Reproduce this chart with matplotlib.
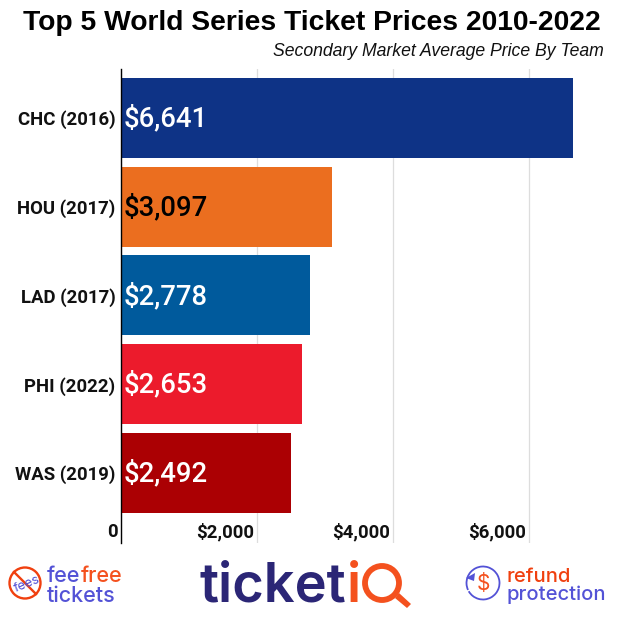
import matplotlib
matplotlib.use("Agg")
import matplotlib.pyplot as plt
from matplotlib.patches import Circle, Arc, Polygon
from matplotlib.transforms import ScaledTranslation

# data
teams = ["CHC (2016)", "HOU (2017)", "LAD (2017)", "PHI (2022)", "WAS (2019)"]
prices = [6641, 3097, 2778, 2653, 2492]
colors = ["#0E3386", "#EB6E1F", "#005A9C", "#EC1B2C", "#AB0003"]
label_colors = ["white", "black", "white", "white", "white"]
xticks = [0, 2000, 4000, 6000]
xtick_labels = ["0", "$2,000", "$4,000", "$6,000"]

W, H = 620, 620
fig = plt.figure(figsize=(W / 100, H / 100), dpi=100)

# axes position in pixels
left = 121.3
ax = fig.add_axes([left / W, 1 - 543 / H, (606 - left) / W, (543 - 69) / H])
ypos = list(range(len(teams)))
ax.barh(ypos, prices, height=0.9, color=colors, zorder=2)
ax.set_ylim(4.79, -0.55)
ax.set_xlim(0, (606 - left) / 0.068)

ax.set_yticks(ypos)
ax.set_yticklabels(teams, fontfamily="Roboto", fontweight="bold", fontsize=13.4, color="#111111")
ax.tick_params(axis="y", length=0, pad=4.2)

# the x labels sit inside the plot, left of each grid line
ax.set_xticks(xticks)
ax.set_xticklabels(xtick_labels, fontfamily="Roboto", fontweight="bold", fontsize=13.4, color="#111111", ha="right")
ax.tick_params(axis="x", length=0, pad=-14.5)
shift = ScaledTranslation(-3.5 / 100, 0, fig.dpi_scale_trans)
for t in ax.get_xticklabels():
    t.set_transform(t.get_transform() + shift)

ax.grid(axis="x", color="#DDDDDD", linewidth=0.9, zorder=1)
ax.set_axisbelow(True)
for s in ["top", "right", "bottom"]:
    ax.spines[s].set_visible(False)
ax.spines["left"].set_color("black")
ax.spines["left"].set_linewidth(1.0)
ax.spines["left"].set_zorder(3)

for y, p, c in zip(ypos, prices, label_colors):
    ax.annotate(f"${p:,}", (0, y), xytext=(1.6, 1.6), textcoords="offset points", va="center_baseline",
                ha="left", fontfamily="Roboto", fontweight="medium", fontsize=19.8, color=c, zorder=4)

fig.text(311.5 / W, 1 - 23 / H, "Top 5 World Series Ticket Prices 2010-2022", ha="center", va="center",
         fontfamily="Liberation Sans", fontweight="bold", fontsize=20.3, color="black")
fig.text(604 / W, 1 - 51 / H, "Secondary Market Average Price By Team", ha="right", va="center",
         fontfamily="Liberation Sans", fontstyle="italic", fontsize=12.7, color="#111111")

# logos along the bottom, on an overlay in pixel coordinates
logo = fig.add_axes([0, 0, 1, 1], facecolor="none")
logo.set_xlim(0, W)
logo.set_ylim(H, 0)
logo.axis("off")

navy = "#2B2676"
purple = "#5352D6"
orange = "#F4511E"
red = "#F0400F"
logo_font = "Inter"

# fee free tickets
logo.text(27, 584, "fees", ha="center", va="center", rotation=22, fontfamily=logo_font, fontsize=9.5, color=purple)
logo.add_patch(Circle((25, 583), 15.5, fill=False, ec=red, lw=1.7))
logo.plot([14, 36], [572, 594], color=red, lw=1.7)
fee = logo.text(47, 582, "fee", ha="left", va="baseline", fontfamily=logo_font, fontweight="medium", fontsize=15.5, color=purple)
logo.annotate("free", xycoords=fee, xy=(1, 0), xytext=(0, 0), textcoords="offset points", va="bottom", ha="left",
              fontfamily=logo_font, fontweight="medium", fontsize=15.5, color=orange)
logo.text(47, 602, "tickets", ha="left", va="baseline", fontfamily=logo_font, fontweight="medium", fontsize=15.5, color=purple)

# ticketiQ
logo.text(200, 602, "ticket", ha="left", va="baseline", fontfamily=logo_font, fontweight="semibold", fontsize=39, color=navy)
logo.text(354.5, 602, "i", ha="center", va="baseline", fontfamily=logo_font, fontweight="semibold", fontsize=39, color=orange)
logo.add_patch(Circle((382, 583), 17, fill=False, ec=orange, lw=4.2))
logo.add_patch(Polygon([[395, 598], [399, 593], [411, 604], [407, 608]], closed=True, fc=orange, ec="none"))

# refund protection
logo.add_patch(Arc((483, 583), 33, 33, theta1=-205, theta2=150, ec=purple, lw=1.3))
logo.add_patch(Polygon([[466, 578], [475, 573], [474, 581]], closed=True, fc=purple, ec="none"))
logo.text(483, 584, "$", ha="center", va="center", fontfamily=logo_font, fontsize=15, color=orange)
logo.text(507, 582, "refund", ha="left", va="baseline", fontfamily=logo_font, fontweight="medium", fontsize=14.5, color=red)
logo.text(507, 600, "protection", ha="left", va="baseline", fontfamily=logo_font, fontweight="medium", fontsize=14.5, color=purple)

fig.savefig("out.png", dpi=100, facecolor="white")
